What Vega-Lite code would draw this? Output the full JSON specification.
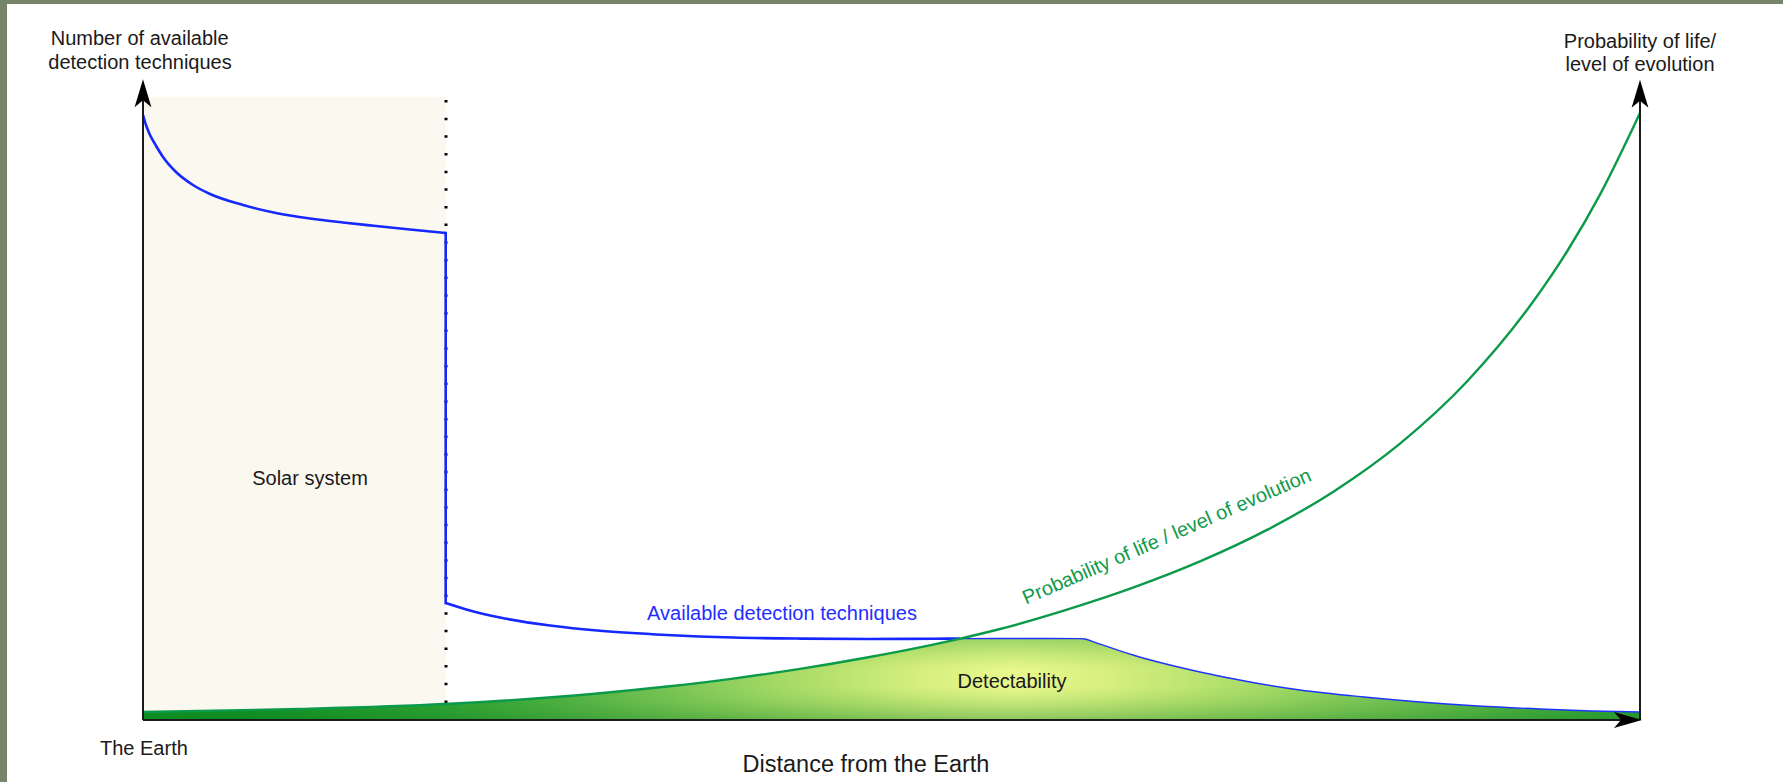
{
  "$schema": "https://vega.github.io/schema/vega-lite/v6.json",
  "width": 1783,
  "height": 782,
  "autosize": {"type": "none"},
  "padding": 0,
  "background": "white",
  "config": {"view": {"stroke": null}, "font": "Liberation Sans"},
  "datasets": {
    "frame": [
      {"part": "left", "x": -9.5524, "x2": -9.085, "y": -10.2479, "y2": 119.0083},
      {"part": "top", "x": -9.5524, "x2": 109.5524, "y": 118.347, "y2": 119.0083}
    ],
    "solar": [{"x": 0, "x2": 20.24, "y": 0, "y2": 102.98}],
    "boundary": [{"x": 20.24, "y": 102.48, "y2": 2.81}],
    "solarCurve": [
      {"d": 0, "v": 100},
      {"d": 0.2, "v": 98.347},
      {"d": 0.468, "v": 96.694},
      {"d": 0.802, "v": 95.207},
      {"d": 1.336, "v": 93.058},
      {"d": 2.204, "v": 90.579},
      {"d": 3.34, "v": 88.43},
      {"d": 4.476, "v": 86.942},
      {"d": 6.68, "v": 85.124},
      {"d": 8.885, "v": 83.802},
      {"d": 11.156, "v": 82.893},
      {"d": 13.36, "v": 82.231},
      {"d": 15.565, "v": 81.653},
      {"d": 17.836, "v": 81.074},
      {"d": 20.22, "v": 80.496}
    ],
    "drop": [
      {"d": 20.22, "v": 80.496},
      {"d": 20.22, "v": 19.339}
    ],
    "outerCurve": [
      {"d": 20.22, "v": 19.339},
      {"d": 21.844, "v": 18.099},
      {"d": 23.848, "v": 16.942},
      {"d": 27.188, "v": 15.62},
      {"d": 30.528, "v": 14.744},
      {"d": 35.004, "v": 14.05},
      {"d": 39.412, "v": 13.636},
      {"d": 43.888, "v": 13.455},
      {"d": 48.364, "v": 13.388},
      {"d": 52.772, "v": 13.438},
      {"d": 54.576, "v": 13.455}
    ],
    "tail": [
      {"d": 54.576, "v": 13.455},
      {"d": 57.248, "v": 13.471},
      {"d": 60.588, "v": 13.471},
      {"d": 62.592, "v": 13.455},
      {"d": 62.926, "v": 13.388},
      {"d": 63.594, "v": 12.843},
      {"d": 66.132, "v": 10.744},
      {"d": 70.608, "v": 7.934},
      {"d": 73.948, "v": 6.281},
      {"d": 77.288, "v": 4.959},
      {"d": 81.563, "v": 3.802},
      {"d": 85.304, "v": 2.975},
      {"d": 89.178, "v": 2.314},
      {"d": 93.32, "v": 1.818},
      {"d": 96.794, "v": 1.488},
      {"d": 100, "v": 1.322}
    ],
    "life": [
      {"d": 0, "v": 1.322},
      {"d": 10.488, "v": 1.818},
      {"d": 20.174, "v": 2.645},
      {"d": 30.528, "v": 4.43},
      {"d": 35.004, "v": 5.537},
      {"d": 39.412, "v": 6.843},
      {"d": 43.888, "v": 8.446},
      {"d": 48.364, "v": 10.331},
      {"d": 52.772, "v": 12.463},
      {"d": 54.442, "v": 13.372},
      {"d": 57.248, "v": 15.041},
      {"d": 61.723, "v": 18.248},
      {"d": 66.132, "v": 21.884},
      {"d": 70.608, "v": 26.215},
      {"d": 75.084, "v": 31.421},
      {"d": 79.493, "v": 37.702},
      {"d": 83.968, "v": 45.686},
      {"d": 88.444, "v": 55.95},
      {"d": 92.852, "v": 69.124},
      {"d": 95.124, "v": 77.438},
      {"d": 97.328, "v": 86.843},
      {"d": 100, "v": 100.331}
    ],
    "detect": [
      {"d": 0, "v": 1.322},
      {"d": 10.488, "v": 1.818},
      {"d": 20.174, "v": 2.645},
      {"d": 30.528, "v": 4.43},
      {"d": 35.004, "v": 5.537},
      {"d": 39.412, "v": 6.843},
      {"d": 43.888, "v": 8.446},
      {"d": 48.364, "v": 10.331},
      {"d": 52.772, "v": 12.463},
      {"d": 54.442, "v": 13.372},
      {"d": 54.576, "v": 13.455},
      {"d": 57.248, "v": 13.471},
      {"d": 60.588, "v": 13.471},
      {"d": 62.592, "v": 13.455},
      {"d": 62.926, "v": 13.388},
      {"d": 63.594, "v": 12.843},
      {"d": 66.132, "v": 10.744},
      {"d": 70.608, "v": 7.934},
      {"d": 73.948, "v": 6.281},
      {"d": 77.288, "v": 4.959},
      {"d": 81.563, "v": 3.802},
      {"d": 85.304, "v": 2.975},
      {"d": 89.178, "v": 2.314},
      {"d": 93.32, "v": 1.818},
      {"d": 96.794, "v": 1.488},
      {"d": 100, "v": 1.322}
    ],
    "axes": [
      {"axis": "left", "x": 0, "x2": 0, "y": 0, "y2": 104.13},
      {"axis": "right", "x": 100, "x2": 100, "y": 0, "y2": 104.13},
      {"axis": "bottom", "x": 0, "x2": 99.2, "y": 0, "y2": 0}
    ],
    "arrowsUp": [{"x": 0, "y": 103.6}, {"x": 100, "y": 103.5}],
    "arrowsRight": [{"x": 99.198, "y": 0}],
    "labels": [
      {"label": "Number of available", "x": -0.22, "y": 111.57},
      {"label": "detection techniques", "x": -0.2, "y": 107.55},
      {"label": "Probability of life/", "x": 100, "y": 111.14},
      {"label": "level of evolution", "x": 100, "y": 107.24},
      {"label": "Detectability", "x": 58.05, "y": 5.29},
      {"label": "Solar system", "x": 11.156, "y": 38.84}
    ],
    "origin": [{"label": "The Earth", "x": -2.872, "y": -5.785}],
    "xtitle": [{"label": "Distance from the Earth", "x": 48.297, "y": -8.595}],
    "blueLabel": [{"label": "Available detection techniques", "x": 42.685, "y": 16.53}],
    "greenLabel": [{"label": "Probability of life / level of evolution", "x": 68.4, "y": 30.25}]
  },
  "layer": [
    {
      "data": {"name": "frame"},
      "mark": {"type": "rect", "color": "#76846a"},
      "encoding": {
        "x": {"field": "x", "type": "quantitative", "scale": {"domain": [-9.5524, 109.5524], "nice": false, "zero": false}, "axis": null},
        "x2": {"field": "x2"},
        "y": {"field": "y", "type": "quantitative", "scale": {"domain": [-10.2479, 119.0083], "nice": false, "zero": false}, "axis": null},
        "y2": {"field": "y2"}
      }
    },
    {
      "data": {"name": "solar"},
      "mark": {"type": "rect", "color": "#fbf8f0"},
      "encoding": {
        "x": {"field": "x", "type": "quantitative", "scale": {"domain": [-9.5524, 109.5524], "nice": false, "zero": false}, "axis": null},
        "x2": {"field": "x2"},
        "y": {"field": "y", "type": "quantitative", "scale": {"domain": [-10.2479, 119.0083], "nice": false, "zero": false}, "axis": null},
        "y2": {"field": "y2"}
      }
    },
    {
      "data": {"name": "boundary"},
      "mark": {"type": "rule", "color": "#000000", "strokeWidth": 3, "strokeDash": [2.5, 15.16], "strokeCap": "butt"},
      "encoding": {
        "x": {"field": "x", "type": "quantitative", "scale": {"domain": [-9.5524, 109.5524], "nice": false, "zero": false}, "axis": null},
        "y": {"field": "y", "type": "quantitative", "scale": {"domain": [-10.2479, 119.0083], "nice": false, "zero": false}, "axis": null},
        "y2": {"field": "y2"}
      }
    },
    {
      "data": {"name": "detect"},
      "mark": {
        "type": "area",
        "interpolate": "monotone",
        "color": {
          "gradient": "radial",
          "x1": 0.5805, "y1": 0.5, "r1": 0,
          "x2": 0.606, "y2": 0.5, "r2": 0.534,
          "stops": [
            {"offset": 0, "color": "#eaf88e"},
            {"offset": 0.12, "color": "#d6ef7e"},
            {"offset": 0.3, "color": "#a6da66"},
            {"offset": 0.45, "color": "#78c454"},
            {"offset": 0.6, "color": "#4aae40"},
            {"offset": 0.75, "color": "#229d2e"},
            {"offset": 1, "color": "#00881a"}
          ]
        }
      },
      "encoding": {
        "x": {"field": "d", "type": "quantitative", "scale": {"domain": [-9.5524, 109.5524], "nice": false, "zero": false}, "axis": null},
        "y": {"field": "v", "type": "quantitative", "scale": {"domain": [-10.2479, 119.0083], "nice": false, "zero": false}, "axis": null},
        "y2": {"datum": 0}
      }
    },
    {
      "data": {"name": "detect"},
      "mark": {
        "type": "area",
        "interpolate": "monotone",
        "color": {
          "gradient": "linear",
          "x1": 0, "y1": 0, "x2": 0, "y2": 1,
          "stops": [
            {"offset": 0, "color": "rgba(70,170,60,0.45)"},
            {"offset": 0.38, "color": "rgba(120,200,80,0)"},
            {"offset": 0.58, "color": "rgba(120,200,80,0)"},
            {"offset": 1, "color": "rgba(30,140,40,0.45)"}
          ]
        }
      },
      "encoding": {
        "x": {"field": "d", "type": "quantitative", "scale": {"domain": [-9.5524, 109.5524], "nice": false, "zero": false}, "axis": null},
        "y": {"field": "v", "type": "quantitative", "scale": {"domain": [-10.2479, 119.0083], "nice": false, "zero": false}, "axis": null},
        "y2": {"datum": 0}
      }
    },
    {
      "data": {"name": "tail"},
      "mark": {"type": "line", "interpolate": "monotone", "color": "#1f35ff", "strokeWidth": 1.4},
      "encoding": {
        "x": {"field": "d", "type": "quantitative", "scale": {"domain": [-9.5524, 109.5524], "nice": false, "zero": false}, "axis": null},
        "y": {"field": "v", "type": "quantitative", "scale": {"domain": [-10.2479, 119.0083], "nice": false, "zero": false}, "axis": null}
      }
    },
    {
      "data": {"name": "solarCurve"},
      "mark": {"type": "line", "interpolate": "monotone", "color": "#1428ff", "strokeWidth": 2.6},
      "encoding": {
        "x": {"field": "d", "type": "quantitative", "scale": {"domain": [-9.5524, 109.5524], "nice": false, "zero": false}, "axis": null},
        "y": {"field": "v", "type": "quantitative", "scale": {"domain": [-10.2479, 119.0083], "nice": false, "zero": false}, "axis": null}
      }
    },
    {
      "data": {"name": "drop"},
      "mark": {"type": "line", "interpolate": "linear", "color": "#1428ff", "strokeWidth": 2.6, "strokeCap": "square"},
      "encoding": {
        "x": {"field": "d", "type": "quantitative", "scale": {"domain": [-9.5524, 109.5524], "nice": false, "zero": false}, "axis": null},
        "y": {"field": "v", "type": "quantitative", "scale": {"domain": [-10.2479, 119.0083], "nice": false, "zero": false}, "axis": null},
        "order": {"field": "v", "sort": "descending"}
      }
    },
    {
      "data": {"name": "outerCurve"},
      "mark": {"type": "line", "interpolate": "monotone", "color": "#1428ff", "strokeWidth": 2.6},
      "encoding": {
        "x": {"field": "d", "type": "quantitative", "scale": {"domain": [-9.5524, 109.5524], "nice": false, "zero": false}, "axis": null},
        "y": {"field": "v", "type": "quantitative", "scale": {"domain": [-10.2479, 119.0083], "nice": false, "zero": false}, "axis": null}
      }
    },
    {
      "data": {"name": "life"},
      "mark": {"type": "line", "interpolate": "monotone", "color": "#0b9a4a", "strokeWidth": 2.4},
      "encoding": {
        "x": {"field": "d", "type": "quantitative", "scale": {"domain": [-9.5524, 109.5524], "nice": false, "zero": false}, "axis": null},
        "y": {"field": "v", "type": "quantitative", "scale": {"domain": [-10.2479, 119.0083], "nice": false, "zero": false}, "axis": null}
      }
    },
    {
      "data": {"name": "axes"},
      "mark": {"type": "rule", "color": "#1a1a1a", "strokeWidth": 2},
      "encoding": {
        "x": {"field": "x", "type": "quantitative", "scale": {"domain": [-9.5524, 109.5524], "nice": false, "zero": false}, "axis": null},
        "x2": {"field": "x2"},
        "y": {"field": "y", "type": "quantitative", "scale": {"domain": [-10.2479, 119.0083], "nice": false, "zero": false}, "axis": null},
        "y2": {"field": "y2"}
      }
    },
    {
      "data": {"name": "arrowsUp"},
      "mark": {"type": "point", "shape": "M0,-1L0.6,1L0,0.5L-0.6,1Z", "filled": true, "color": "#000000", "opacity": 1, "size": 784, "strokeWidth": 0},
      "encoding": {
        "x": {"field": "x", "type": "quantitative", "scale": {"domain": [-9.5524, 109.5524], "nice": false, "zero": false}, "axis": null},
        "y": {"field": "y", "type": "quantitative", "scale": {"domain": [-10.2479, 119.0083], "nice": false, "zero": false}, "axis": null}
      }
    },
    {
      "data": {"name": "arrowsRight"},
      "mark": {"type": "point", "shape": "M1,0L-1,-0.58L-0.5,0L-1,0.58Z", "filled": true, "color": "#000000", "opacity": 1, "size": 784, "strokeWidth": 0},
      "encoding": {
        "x": {"field": "x", "type": "quantitative", "scale": {"domain": [-9.5524, 109.5524], "nice": false, "zero": false}, "axis": null},
        "y": {"field": "y", "type": "quantitative", "scale": {"domain": [-10.2479, 119.0083], "nice": false, "zero": false}, "axis": null}
      }
    },
    {
      "data": {"name": "labels"},
      "mark": {"type": "text", "fontSize": 20, "align": "center", "baseline": "alphabetic", "color": "#1a1a1a", "font": "Liberation Sans"},
      "encoding": {
        "x": {"field": "x", "type": "quantitative", "scale": {"domain": [-9.5524, 109.5524], "nice": false, "zero": false}, "axis": null},
        "y": {"field": "y", "type": "quantitative", "scale": {"domain": [-10.2479, 119.0083], "nice": false, "zero": false}, "axis": null},
        "text": {"field": "label"}
      }
    },
    {
      "data": {"name": "origin"},
      "mark": {"type": "text", "fontSize": 20, "align": "left", "baseline": "alphabetic", "color": "#1a1a1a", "font": "Liberation Sans"},
      "encoding": {
        "x": {"field": "x", "type": "quantitative", "scale": {"domain": [-9.5524, 109.5524], "nice": false, "zero": false}, "axis": null},
        "y": {"field": "y", "type": "quantitative", "scale": {"domain": [-10.2479, 119.0083], "nice": false, "zero": false}, "axis": null},
        "text": {"field": "label"}
      }
    },
    {
      "data": {"name": "xtitle"},
      "mark": {"type": "text", "fontSize": 23.5, "align": "center", "baseline": "alphabetic", "color": "#1a1a1a", "font": "Liberation Sans"},
      "encoding": {
        "x": {"field": "x", "type": "quantitative", "scale": {"domain": [-9.5524, 109.5524], "nice": false, "zero": false}, "axis": null},
        "y": {"field": "y", "type": "quantitative", "scale": {"domain": [-10.2479, 119.0083], "nice": false, "zero": false}, "axis": null},
        "text": {"field": "label"}
      }
    },
    {
      "data": {"name": "blueLabel"},
      "mark": {"type": "text", "fontSize": 20, "align": "center", "baseline": "alphabetic", "color": "#1f2eff", "font": "Liberation Sans"},
      "encoding": {
        "x": {"field": "x", "type": "quantitative", "scale": {"domain": [-9.5524, 109.5524], "nice": false, "zero": false}, "axis": null},
        "y": {"field": "y", "type": "quantitative", "scale": {"domain": [-10.2479, 119.0083], "nice": false, "zero": false}, "axis": null},
        "text": {"field": "label"}
      }
    },
    {
      "data": {"name": "greenLabel"},
      "mark": {"type": "text", "fontSize": 20, "align": "center", "baseline": "middle", "angle": -23.5, "color": "#0f9a4a", "font": "Liberation Sans"},
      "encoding": {
        "x": {"field": "x", "type": "quantitative", "scale": {"domain": [-9.5524, 109.5524], "nice": false, "zero": false}, "axis": null},
        "y": {"field": "y", "type": "quantitative", "scale": {"domain": [-10.2479, 119.0083], "nice": false, "zero": false}, "axis": null},
        "text": {"field": "label"}
      }
    }
  ]
}
